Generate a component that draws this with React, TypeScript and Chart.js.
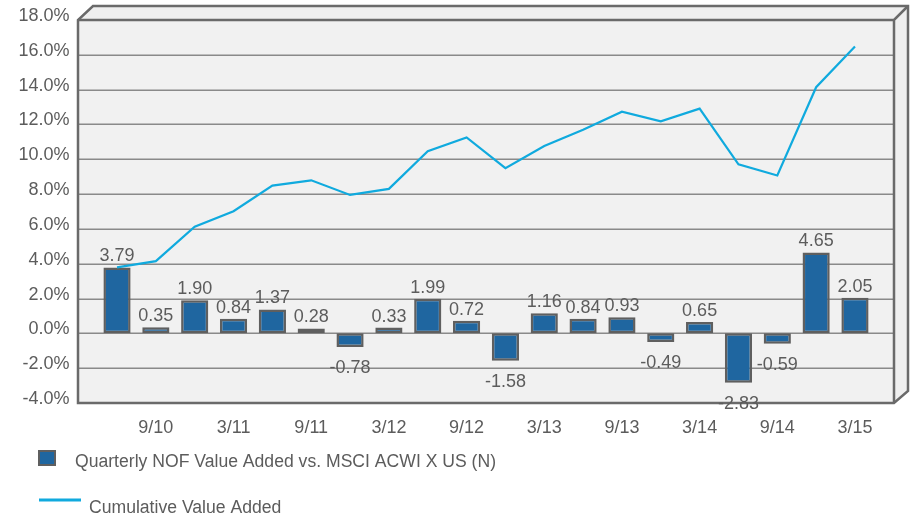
import React, { useEffect, useRef } from "react";
import { Chart, registerables } from "chart.js";

Chart.register(...registerables);

const categories = [
  "6/10", "9/10", "12/10", "3/11", "6/11", "9/11", "12/11", "3/12", "6/12", "9/12",
  "12/12", "3/13", "6/13", "9/13", "12/13", "3/14", "6/14", "9/14", "12/14", "3/15",
];
const quarterlyValueAdded = [
  3.79, 0.35, 1.9, 0.84, 1.37, 0.28, -0.78, 0.33, 1.99, 0.72,
  -1.58, 1.16, 0.84, 0.93, -0.49, 0.65, -2.83, -0.59, 4.65, 2.05,
];
const cumulativeValueAdded = [
  3.79, 4.15, 6.13, 7.02, 8.49, 8.79, 7.95, 8.3, 10.46, 11.25,
  9.49, 10.76, 11.69, 12.73, 12.18, 12.91, 9.71, 9.07, 14.14, 16.48,
];
const barLabel = "Quarterly NOF Value Added vs. MSCI ACWI X US (N)";
const lineLabel = "Cumulative Value Added";
const yMin = -4;
const yMax = 18;
const yStep = 2;

const FONT = "'Liberation Sans', Arial, sans-serif";
const TEXT = "#5c5c5c";
const BAR_FILL = "#1f66a0";
const BAR_BORDER = "#5f5f5f";
const LINE_COLOR = "#10aade";
const FRAME = "#6a6a6a";
const GRID = "#8a8a8a";
const WALL = "#f1f1f1";

const frameGeom = { left: 78, right: 894, depth: 14 };

const framePlugin = {
  id: "frame3d",
  beforeDraw(chart: any) {
    const ctx = chart.ctx;
    const y = chart.scales.y;
    const top = y.getPixelForValue(yMax);
    const bottom = y.getPixelForValue(yMin);
    const { left, right, depth } = frameGeom;
    ctx.save();
    ctx.fillStyle = WALL;
    ctx.fillRect(left, top, right - left, bottom - top);
    ctx.fillStyle = "#efefef";
    ctx.beginPath();
    ctx.moveTo(left, top);
    ctx.lineTo(left + depth + 1, top - depth);
    ctx.lineTo(right + depth, top - depth);
    ctx.lineTo(right, top);
    ctx.closePath();
    ctx.fill();
    ctx.beginPath();
    ctx.moveTo(right, top);
    ctx.lineTo(right + depth, top - depth);
    ctx.lineTo(right + depth, bottom - 12);
    ctx.lineTo(right, bottom);
    ctx.closePath();
    ctx.fill();
    ctx.strokeStyle = GRID;
    ctx.lineWidth = 1.5;
    for (let v = yMin + yStep; v < yMax; v += yStep) {
      const py = Math.round(y.getPixelForValue(v)) + 0.25;
      ctx.beginPath();
      ctx.moveTo(left, py);
      ctx.lineTo(right, py);
      ctx.stroke();
    }
    ctx.strokeStyle = FRAME;
    ctx.lineWidth = 2.5;
    ctx.lineJoin = "miter";
    ctx.beginPath();
    ctx.moveTo(left, bottom);
    ctx.lineTo(left, top);
    ctx.lineTo(left + depth + 1, top - depth);
    ctx.lineTo(right + depth, top - depth);
    ctx.lineTo(right + depth, bottom - 12);
    ctx.lineTo(right, bottom);
    ctx.closePath();
    ctx.stroke();
    ctx.beginPath();
    ctx.moveTo(left, top);
    ctx.lineTo(right, top);
    ctx.lineTo(right + depth, top - depth);
    ctx.moveTo(right, top);
    ctx.lineTo(right, bottom);
    ctx.stroke();
    ctx.restore();
  },
  afterDatasetsDraw(chart: any) {
    const ctx = chart.ctx;
    const meta = chart.getDatasetMeta(0);
    ctx.save();
    ctx.font = `18px ${FONT}`;
    ctx.fillStyle = TEXT;
    ctx.textAlign = "center";
    ctx.textBaseline = "middle";
    meta.data.forEach((el: any, i: number) => {
      const v = quarterlyValueAdded[i];
      const txt = v.toFixed(2);
      if (v >= 0) ctx.fillText(txt, el.x, el.y - 11);
      else ctx.fillText(txt, el.x, el.y + 21);
    });
    ctx.font = `17.6px ${FONT}`;
    ctx.textAlign = "left";
    ctx.fillStyle = BAR_FILL;
    ctx.fillRect(38, 450, 18, 16);
    ctx.strokeStyle = BAR_BORDER;
    ctx.lineWidth = 2;
    ctx.strokeRect(39, 451, 16, 14);
    ctx.fillStyle = TEXT;
    ctx.fillText(chart.data.datasets[0].label, 75, 462);
    ctx.strokeStyle = LINE_COLOR;
    ctx.lineWidth = 3;
    ctx.beginPath();
    ctx.moveTo(39, 500);
    ctx.lineTo(81, 500);
    ctx.stroke();
    ctx.fillText(chart.data.datasets[1].label, 89, 508);
    ctx.restore();
  },
};

export default function App() {
  const ref = useRef<HTMLCanvasElement | null>(null);
  useEffect(() => {
    if (!ref.current) return;
    const chart = new Chart(ref.current, {
      type: "bar",
      data: {
        labels: categories,
        datasets: [
          {
            type: "bar",
            label: barLabel,
            data: quarterlyValueAdded,
            backgroundColor: BAR_FILL,
            borderColor: BAR_BORDER,
            borderWidth: 2.5,
            borderSkipped: false,
            barPercentage: 0.7,
            categoryPercentage: 1,
            order: 2,
          },
          {
            type: "line",
            label: lineLabel,
            data: cumulativeValueAdded,
            borderColor: LINE_COLOR,
            borderWidth: 2.2,
            pointRadius: 0,
            tension: 0,
            fill: false,
            order: 1,
          },
        ],
      },
      options: {
        responsive: false,
        animation: false,
        layout: { padding: { top: 20, right: 38.6, left: 0, bottom: 75 } },
        plugins: { legend: { display: false }, tooltip: { enabled: false } },
        scales: {
          x: {
            offset: true,
            grid: { display: false, drawTicks: false },
            border: { display: false },
            ticks: {
              autoSkip: false,
              maxRotation: 0,
              padding: 14,
              color: TEXT,
              font: { family: FONT, size: 18 },
              callback: (_v: any, i: number) => (i % 2 === 1 ? categories[i] : ""),
            },
            afterFit: (s: any) => {
              s.height = 40;
              s.paddingLeft = 0;
              s.paddingRight = 0;
            },
          },
          y: {
            min: yMin,
            max: yMax,
            grid: { display: false, drawTicks: false },
            border: { display: false },
            ticks: {
              stepSize: yStep,
              padding: 28,
              labelOffset: -4,
              color: TEXT,
              font: { family: FONT, size: 18 },
              callback: (v: any) => Number(v).toFixed(1) + "%",
            },
            afterFit: (s: any) => {
              s.width = 97.6;
              s.paddingTop = 0;
              s.paddingBottom = 0;
            },
          },
        },
      },
      plugins: [framePlugin],
    } as any);
    return () => chart.destroy();
  }, []);
  return (
    <div style={{ position: "absolute", left: 0, top: 0, width: 913, height: 518, background: "#fff" }}>
      <canvas ref={ref} width={913} height={518} />
    </div>
  );
}
